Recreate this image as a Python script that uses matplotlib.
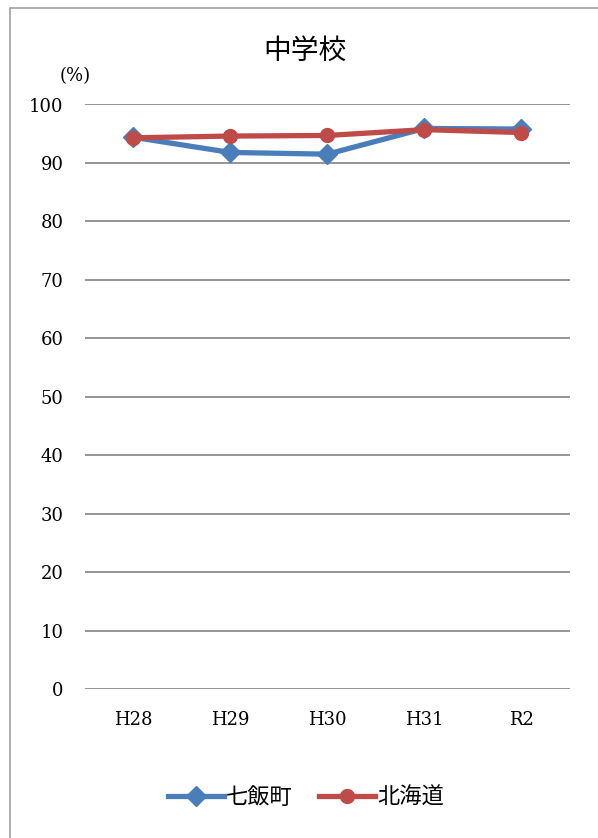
import matplotlib.pyplot as plt
from matplotlib.patches import Rectangle

plt.rcParams['font.family'] = ['DejaVu Serif', 'Noto Sans CJK JP', 'DejaVu Sans']

# データ
years = ["H28", "H29", "H30", "H31", "R2"]
nanae = [94.4, 91.8, 91.5, 95.9, 95.8]
hokkaido = [94.3, 94.6, 94.7, 95.7, 95.2]

W, H = 598, 838
fig = plt.figure(figsize=(W / 100, H / 100), dpi=100)

# 外枠
fig.patches.append(Rectangle((10 / W, -0.1), 1.2, 1 - 8 / H + 0.1,
                             transform=fig.transFigure, fill=False,
                             edgecolor="#a0a0a0", lw=1.2))

ax = fig.add_axes([84.5 / W, 1 - 689 / H, (570 - 84.5) / W, (689 - 104.5) / H])
x = range(len(years))
ax.plot(x, nanae, color="#4a7ebb", lw=3.8, marker="D", ms=10, label="七飯町", zorder=3)
ax.plot(x, hokkaido, color="#be4b48", lw=3.8, marker="o", ms=10, label="北海道", zorder=4)

ax.set_xlim(-0.5, 4.5)
ax.set_ylim(0, 100)
ax.set_yticks(range(0, 101, 10))
ax.set_xticks(list(x))
ax.set_xticklabels(years)
ax.grid(axis="y", color="#8c8c8c", lw=1.3)
ax.set_axisbelow(True)
for s in ax.spines.values():
    s.set_visible(False)
ax.tick_params(length=0, labelsize=13)
ax.tick_params(axis="x", pad=16)
ax.tick_params(axis="y", pad=15)

fig.text(305 / W, 1 - 51 / H, "中学校", ha="center", va="center",
         fontsize=20, family=["Noto Sans CJK JP"])
fig.text(75 / W, 1 - 76 / H, "(%)", ha="center", va="center", fontsize=13)

fig.legend(loc="center", bbox_to_anchor=(306 / W, 1 - 797 / H), ncol=2,
           frameon=False, prop={"family": ["Noto Sans CJK JP"], "size": 16},
           handlelength=2.5, columnspacing=1.2, handletextpad=0.1)

fig.savefig("out.png", dpi=100)
